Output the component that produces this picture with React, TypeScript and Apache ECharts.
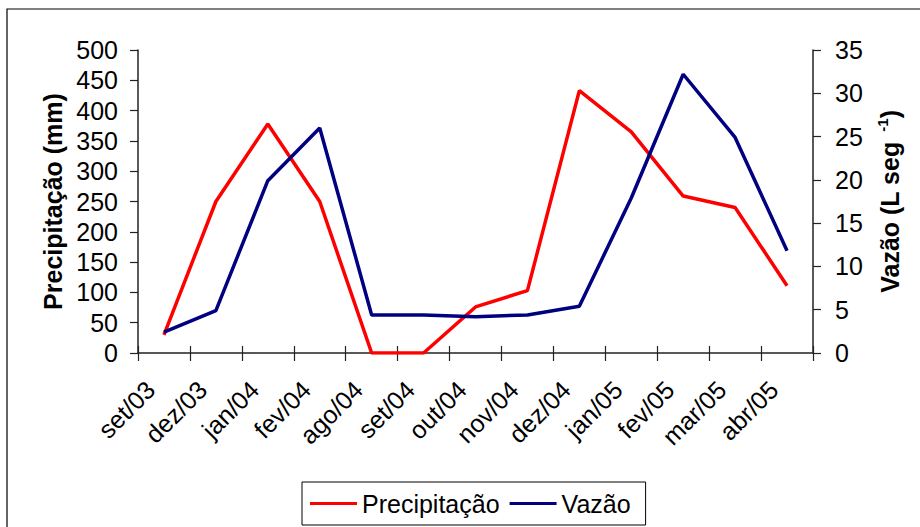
import React, { useEffect, useRef } from "react";
import * as echarts from "echarts";

const categories = ["set/03", "dez/03", "jan/04", "fev/04", "ago/04", "set/04", "out/04", "nov/04", "dez/04", "jan/05", "fev/05", "mar/05", "abr/05"];
const precipitacao = [30, 250, 378, 250, 0, 0, 76, 103, 433, 365, 259, 240, 111];
const vazao = [2.4, 4.9, 19.9, 26.0, 4.4, 4.4, 4.2, 4.4, 5.4, 17.9, 32.2, 24.9, 11.8];
const leftAxis = { min: 0, max: 500, interval: 50 };
const rightAxis = { min: 0, max: 35, interval: 5 };

const FONT = "'Liberation Sans', Arial, sans-serif";
const FS = 25;

export default function App() {
  const ref = useRef<HTMLDivElement>(null);
  useEffect(() => {
    if (!ref.current) return;
    const chart = echarts.init(ref.current, undefined, { renderer: "svg" });
    const axisLine = { show: true, lineStyle: { color: "#222", width: 1.5 } };
    chart.setOption({
      animation: false,
      backgroundColor: "#fff",
      textStyle: { fontFamily: FONT },
      graphic: [
        {
          type: "rect",
          shape: { x: 7, y: 9, width: 940, height: 540 },
          style: { fill: "none", stroke: "#000", lineWidth: 1.2 },
          silent: true,
        },
      ],
      grid: { left: 138, right: 107, top: 50, bottom: 174, containLabel: false },
      legend: {
        left: 302,
        top: 482,
        padding: [9, 15, 9, 8],
        borderColor: "#000",
        borderWidth: 1,
        itemWidth: 47,
        itemHeight: 3,
        itemGap: 10,
        icon: "rect",
        textStyle: { fontFamily: FONT, fontSize: FS, color: "#000" },
        data: ["Precipitação", "Vazão"],
      },
      xAxis: [
        {
          type: "category",
          data: categories,
          boundaryGap: true,
          axisLine,
          axisTick: { show: true, length: 8, lineStyle: { color: "#222", width: 1.2 } },
          axisLabel: { rotate: 45, margin: 19, padding: [0, 19, 0, 0], fontSize: FS, color: "#000", fontFamily: FONT, interval: 0 },
        },
        {
          type: "category",
          data: categories,
          position: "bottom",
          boundaryGap: true,
          axisLine: { show: false },
          axisTick: { show: true, inside: true, length: 7, lineStyle: { color: "#222", width: 1.2 } },
          axisLabel: { show: false },
        },
      ],
      yAxis: [
        {
          type: "value",
          position: "left",
          ...leftAxis,
          axisLine,
          axisTick: { show: true, length: 8, lineStyle: { color: "#222", width: 1.2 } },
          axisLabel: { fontSize: FS, color: "#000", margin: 20, fontFamily: FONT },
          splitLine: { show: false },
          name: "Precipitação (mm)",
          nameLocation: "middle",
          nameRotate: 90,
          nameGap: 73,
          nameTextStyle: { fontSize: FS, fontWeight: "bold", color: "#000", fontFamily: FONT },
        },
        {
          type: "value",
          position: "right",
          ...rightAxis,
          axisLine,
          axisTick: { show: true, length: 8, lineStyle: { color: "#222", width: 1.2 } },
          axisLabel: { fontSize: FS, color: "#000", margin: 22, fontFamily: FONT },
          splitLine: { show: false },
          name: "{m|Vazão (L seg }{s|-1}{m|)}",
          nameLocation: "middle",
          nameRotate: 90,
          nameGap: 62,
          nameTextStyle: {
            fontSize: FS,
            fontWeight: "bold",
            color: "#000",
            fontFamily: FONT,
            rich: {
              m: { fontSize: FS, fontWeight: "bold", color: "#000", fontFamily: FONT },
              s: { fontSize: 15, fontWeight: "bold", color: "#000", fontFamily: FONT, verticalAlign: "top", padding: [0, 0, 14, 3] },
            },
          },
        },
      ],
      series: [
        {
          name: "Precipitação",
          type: "line",
          xAxisIndex: 0,
          yAxisIndex: 0,
          data: precipitacao,
          symbol: "none",
          lineStyle: { color: "#FF0000", width: 3.5 },
          itemStyle: { color: "#FF0000" },
        },
        {
          name: "Vazão",
          type: "line",
          xAxisIndex: 0,
          yAxisIndex: 1,
          data: vazao,
          symbol: "none",
          lineStyle: { color: "#000080", width: 3.5 },
          itemStyle: { color: "#000080" },
        },
      ],
    });
    return () => chart.dispose();
  }, []);
  return <div ref={ref} style={{ position: "fixed", left: 0, top: 0, width: 920, height: 527 }} />;
}
